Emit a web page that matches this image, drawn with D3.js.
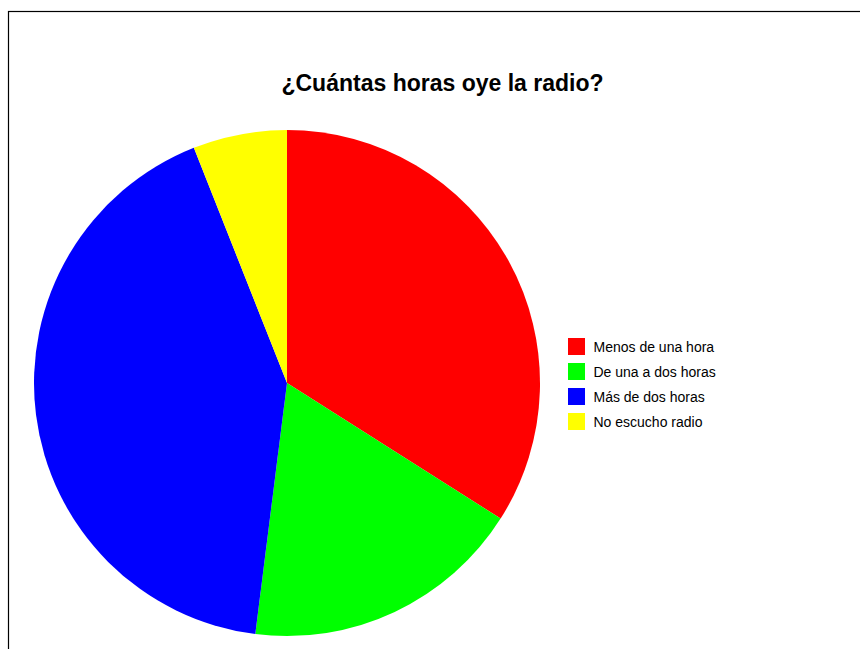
<!DOCTYPE html>
<html>
<head>
<meta charset="utf-8">
<script src="https://cdn.jsdelivr.net/npm/d3@7/dist/d3.min.js"></script>
<style>
  html, body { margin: 0; padding: 0; background: #fff; }
  svg { display: block; }
</style>
</head>
<body>
<svg id="chart" width="860" height="649"></svg>
<script>
// Survey answers: how many hours a day people listen to the radio
const categories = ["Menos de una hora", "De una a dos horas", "Más de dos horas", "No escucho radio"];
const values = [34, 18, 42, 6];
const colors = ["#ff0000", "#00ff00", "#0000ff", "#ffff00"];
const title = "¿Cuántas horas oye la radio?";

const svg = d3.select("#chart");
const font = "Liberation Sans, Arial, sans-serif";

// frame around the drawing area
svg.append("rect")
  .attr("x", 8.5).attr("y", 11.5)
  .attr("width", 900).attr("height", 700)
  .attr("fill", "none").attr("stroke", "#000").attr("stroke-width", 1.2);

svg.append("text")
  .attr("x", 442.5).attr("y", 91)
  .attr("text-anchor", "middle")
  .attr("font-family", font)
  .attr("font-size", 23)
  .attr("font-weight", "bold")
  .text(title);

const cx = 287, cy = 383, r = 253;
const color = d3.scaleOrdinal().domain(categories).range(colors);
const pie = d3.pie().sort(null).value(d => d.value);
const arc = d3.arc().innerRadius(0).outerRadius(r);
const data = categories.map((c, i) => ({ name: c, value: values[i] }));

svg.append("g")
  .attr("transform", `translate(${cx},${cy})`)
  .selectAll("path")
  .data(pie(data))
  .join("path")
  .attr("d", arc)
  .attr("fill", d => color(d.data.name));

// legend
const legend = svg.append("g").attr("transform", "translate(568,338)");
const item = legend.selectAll("g")
  .data(categories)
  .join("g")
  .attr("transform", (d, i) => `translate(0,${i * 25})`);
item.append("rect")
  .attr("width", 17).attr("height", 17)
  .attr("fill", d => color(d));
item.append("text")
  .attr("x", 25.5).attr("y", 14)
  .attr("font-family", font)
  .attr("font-size", 14)
  .attr("fill", "#000")
  .text(d => d);
</script>
</body>
</html>
